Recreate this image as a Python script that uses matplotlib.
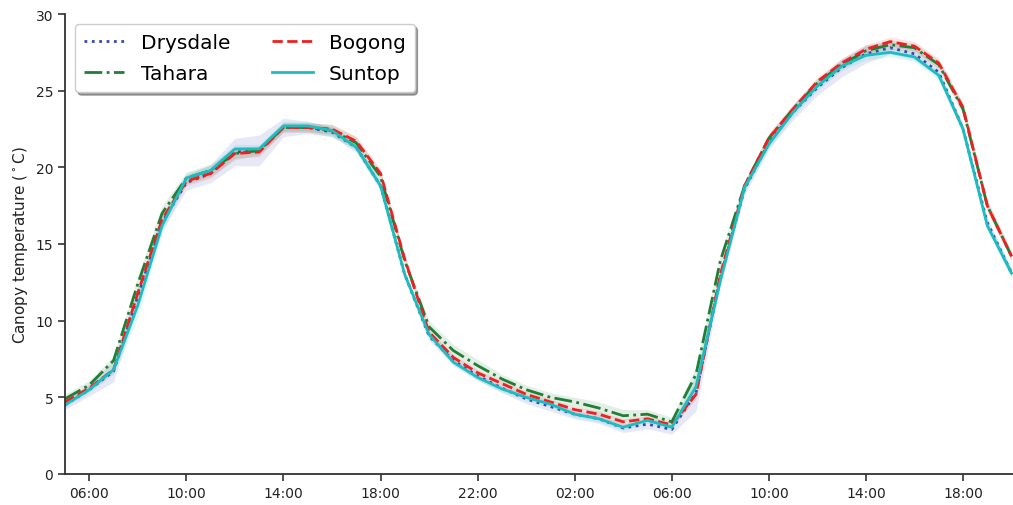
import numpy as np
import pandas as pd
import matplotlib
matplotlib.use("Agg")
import matplotlib.pyplot as plt
import matplotlib.dates as mdates

times = pd.date_range("2018-01-01 05:00", periods=40, freq="h")

series_names = ["Drysdale", "Tahara", "Bogong", "Suntop"]

drysdale = [4.5, 5.5, 6.7, 11.6, 16.4, 19.0, 19.6, 21.0, 21.1, 22.6, 22.6, 22.3, 21.3, 18.8,
            13.0, 9.0, 7.4, 6.4, 5.6, 4.9, 4.4, 3.9, 3.6, 3.0, 3.25, 2.9,
            5.3, 12.8, 18.6, 21.6, 23.6, 25.2, 26.5, 27.4, 27.8, 27.4, 26.2, 22.5, 16.4, 13.1]
tahara = [4.9, 5.8, 7.4, 12.4, 17.0, 19.3, 19.8, 20.9, 21.1, 22.6, 22.6, 22.4, 21.6, 19.4,
          13.9, 9.6, 8.05, 7.07, 6.2, 5.5, 5.0, 4.7, 4.3, 3.8, 3.9, 3.4,
          6.5, 13.9, 18.8, 21.9, 23.8, 25.5, 26.7, 27.6, 28.0, 27.8, 26.7, 23.8, 17.5, 14.2]
bogong = [4.7, 5.6, 6.8, 11.8, 16.6, 19.1, 19.6, 20.9, 21.0, 22.6, 22.6, 22.5, 21.7, 19.6,
          14.0, 9.25, 7.6, 6.6, 5.9, 5.2, 4.7, 4.2, 3.9, 3.4, 3.6, 3.2,
          5.2, 13.0, 18.8, 21.9, 23.8, 25.6, 26.8, 27.7, 28.2, 27.9, 26.8, 23.9, 17.5, 14.2]
suntop = [4.5, 5.5, 6.8, 11.0, 16.2, 19.3, 19.8, 21.2, 21.2, 22.7, 22.7, 22.4, 21.3, 18.8,
          13.0, 9.1, 7.3, 6.3, 5.55, 5.0, 4.55, 3.9, 3.6, 3.05, 3.5, 3.05,
          5.7, 12.6, 18.7, 21.5, 23.6, 25.3, 26.6, 27.3, 27.5, 27.2, 26.0, 22.5, 16.2, 13.1]

drysdale_sd = [0.3, 0.4, 0.7, 0.6, 0.5, 0.5, 0.6, 0.9, 1.0, 0.6, 0.4, 0.3, 0.3, 0.3,
               0.3, 0.3, 0.3, 0.3, 0.3, 0.3, 0.3, 0.3, 0.3, 0.3, 0.3, 0.3,
               1.2, 0.6, 0.4, 0.4, 0.5, 0.5, 0.6, 0.6, 0.4, 0.4, 0.3, 0.3, 0.3, 0.3]
tahara_sd = [0.3, 0.3, 0.3, 0.5, 0.5, 0.4, 0.4, 0.4, 0.3, 0.3, 0.3, 0.4, 0.4, 0.3,
             0.3, 0.4, 0.4, 0.4, 0.3, 0.3, 0.3, 0.3, 0.4, 0.4, 0.3, 0.3,
             0.5, 0.4, 0.3, 0.3, 0.3, 0.3, 0.3, 0.3, 0.3, 0.3, 0.3, 0.4, 0.4, 0.3]
bogong_sd = [0.2, 0.2, 0.2, 0.3, 0.3, 0.3, 0.3, 0.3, 0.3, 0.3, 0.3, 0.3, 0.3, 0.3,
             0.2, 0.2, 0.2, 0.2, 0.2, 0.2, 0.2, 0.2, 0.2, 0.2, 0.2, 0.2,
             0.3, 0.3, 0.3, 0.3, 0.3, 0.3, 0.3, 0.3, 0.3, 0.3, 0.3, 0.3, 0.3, 0.3]
suntop_sd = [0.2, 0.2, 0.3, 0.8, 0.5, 0.3, 0.3, 0.3, 0.3, 0.3, 0.3, 0.3, 0.3, 0.3,
             0.2, 0.2, 0.2, 0.2, 0.2, 0.2, 0.2, 0.2, 0.2, 0.2, 0.2, 0.2,
             0.3, 0.3, 0.3, 0.3, 0.3, 0.3, 0.3, 0.3, 0.3, 0.3, 0.3, 0.3, 0.3, 0.3]

colors = ["#3a48b0", "#1f7f35", "#ee2020", "#1bbdc0"]
styles = [":", "-.", "--", "-"]
y_label = "Canopy temperature ($^\\circ$C)"
y_ticks = [0, 5, 10, 15, 20, 25, 30]

plt.rcParams["font.family"] = ["DejaVu Sans"]
fig = plt.figure(figsize=(10.13, 5.06), dpi=100)
ax = fig.add_axes([65 / 1013, 31 / 506, 948 / 1013, 460 / 506])

for name, vals, sd, c, ls in zip(series_names,
                                 [drysdale, tahara, bogong, suntop],
                                 [drysdale_sd, tahara_sd, bogong_sd, suntop_sd],
                                 colors, styles):
    v = np.array(vals)
    s = np.array(sd)
    ax.fill_between(times, v - s, v + s, color=c, alpha=0.12, linewidth=0)
    ax.plot(times, v, ls, color=c, lw=2.0, label=name)

ax.set_xlim(times[0], times[0] + pd.Timedelta(hours=39.06))
ax.set_ylim(0, 30)
ax.set_yticks(y_ticks)
ax.xaxis.set_major_locator(mdates.HourLocator(byhour=[2, 6, 10, 14, 18, 22]))
ax.xaxis.set_major_formatter(mdates.DateFormatter("%H:%M"))
ax.set_ylabel(y_label, fontsize=11, color="#222222")
ax.tick_params(axis="both", labelsize=10, length=5, width=1.2, colors="#333333",
               labelcolor="#222222", direction="out")
for sp in ["top", "right"]:
    ax.spines[sp].set_visible(False)
for sp in ["left", "bottom"]:
    ax.spines[sp].set_linewidth(1.3)
    ax.spines[sp].set_color("#333333")

leg = ax.legend(loc="upper left", ncol=2, fontsize=14.5, shadow=True, fancybox=True,
                frameon=True, bbox_to_anchor=(0.0, 1.0), columnspacing=2.1,
                handlelength=2.0, borderpad=0.45, labelspacing=0.6, handletextpad=0.8)

fig.savefig("out.png", dpi=100)
